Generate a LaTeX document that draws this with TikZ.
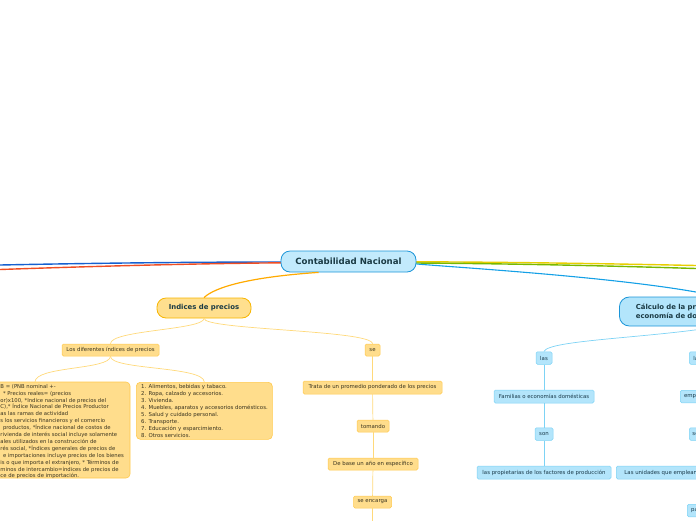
\documentclass[tikz,border=0pt]{standalone}
\usepackage{fontspec}
\setmainfont{DejaVu Sans}
\definecolor{cfill}{HTML}{C2EAFC}
\definecolor{cline}{HTML}{1B95D8}
\definecolor{yfill}{HTML}{FFDD8C}
\definecolor{yline}{HTML}{FFC94D}
\definecolor{ylink}{HTML}{FFD97A}
\definecolor{bfill}{HTML}{B3E5FB}
\definecolor{bline}{HTML}{7DD3F5}
\definecolor{hfill}{HTML}{FFDF8E}
\definecolor{hline}{HTML}{F7B500}
\definecolor{htext}{HTML}{1A3A44}
\definecolor{stext}{HTML}{3A3420}
\definecolor{btext}{HTML}{1A3A4A}
\definecolor{lblue}{HTML}{1560D0}
\definecolor{lred}{HTML}{F04E23}
\definecolor{lyel}{HTML}{E8CE00}
\definecolor{lgrn}{HTML}{78B800}
\definecolor{rblue}{HTML}{14A0E6}
\definecolor{lorg}{HTML}{FFAA00}
\tikzset{
  central/.style={draw=cline, fill=cfill, line width=0.8pt, rounded corners=9pt, minimum width=135pt, minimum height=21pt, inner sep=0pt, font=\fontsize{8.6}{9}\selectfont\bfseries, text=htext},
  ybig/.style={draw=hline, fill=hfill, line width=0.8pt, rounded corners=9pt, minimum height=20pt, inner sep=0pt, font=\fontsize{6.9}{7}\selectfont\bfseries, text=htext},
  bbig/.style={draw=cline, fill=bfill, line width=0.8pt, rounded corners=10pt, minimum height=29pt, inner sep=0pt, font=\fontsize{6.9}{9.5}\selectfont\bfseries, text=htext, align=left},
  ysmall/.style={draw=yline, fill=yfill, line width=0.5pt, rounded corners=1.5pt, minimum height=12pt, inner sep=0pt, font=\fontsize{5.4}{6}\selectfont, text=stext},
  bsmall/.style={draw=bline, fill=bfill, line width=0.5pt, rounded corners=1.5pt, minimum height=12.5pt, inner sep=0pt, font=\fontsize{5.4}{6}\selectfont, text=btext},
  ylink/.style={draw=ylink, line width=0.7pt},
  blink/.style={draw=bline, line width=0.7pt},
}
\begin{document}
\begin{tikzpicture}[x=1pt,y=-1pt]
\useasboundingbox (0,0) rectangle (696,520);
% main branch lines
\coordinate (lb) at (0,265);
\coordinate (lr) at (0,269.5);
\coordinate (ry) at (696,265.5);
\coordinate (rg) at (696,268.5);
\draw[lblue, line width=1.4pt] (283,262) .. controls (200,262) and (100,263) .. (lb);
\draw[lred, line width=1.4pt] (283,262.8) .. controls (200,263.5) and (100,266) .. (lr);
\draw[lyel, line width=1.4pt] (414,261.8) .. controls (500,262) and (600,263.5) .. (ry);
\draw[lgrn, line width=1.4pt] (414,263) .. controls (500,263.5) and (600,265.5) .. (rg);

% nodes
\node[central] (cn) at (348.5,261.5) {Contabilidad Nacional};
\node[ybig, minimum width=94pt] (ip) at (204,308) {Indices de precios};
\node[bbig, minimum width=200pt, anchor=west, text width=185pt] (cal) at (619,311.5) {\hspace*{9pt}Cálculo de la producción en una\\\hspace*{9pt}economía de dos sectores};

\draw[lorg, line width=1.2pt] (cn.200) .. controls (250,277) and (215,287) .. (ip.north);
\draw[rblue, line width=1.1pt] (cn.east |- 0,264) .. controls (480,269) and (640,279) .. (cal.north);

% yellow left part
\node[ysmall, minimum width=97pt] (ldip) at (110.5,350) {Los diferentes índices de precios};
\node[ysmall, minimum width=15pt] (se1) at (372.5,350) {se};
\draw[ylink] (ip.south) .. controls (204,330) and (110,330) .. (ldip.north);
\draw[ylink] (ip.south) .. controls (204,330) and (372.5,330) .. (se1.north);

% big box (cut at left)
\draw[draw=yline, fill=yfill, line width=0.6pt, rounded corners=4pt] (-60,382) rectangle (130,478);
\coordinate (bigtop) at (35,382);
\node[anchor=north west, inner sep=0pt, align=left, text=stext, font=\fontsize{5.3}{6.9}\selectfont] (bigtxt) at (0.3,384) {B = (PNB nominal +-\\
\hspace*{2.5pt}* Precios reales= (precios\\
or)x100, *Indice nacional de precios del\\
C),* Índice Nacional de Precios Productor\\
as las ramas de actividad\\
s los servicios financieros y el comercio\\
\hspace*{2.5pt}productos, *Índice nacional de costos de\\
rivienda de interés social incluye solamente\\
ales utilizados en la construcción de\\
rés social, *Índices generales de precios de\\
\hspace*{2.5pt}e importaciones incluye precios de los bienes\\
is o que importa el extranjero, * Términos de\\
minos de intercambio=índices de precios de\\
ce de precios de importación.};

\node[draw=yline, fill=yfill, line width=0.6pt, rounded corners=4pt, minimum width=136pt, minimum height=57pt, anchor=north west, inner sep=0pt] (box2) at (136,382) {};
\node[anchor=north west, inner sep=0pt, align=left, text=stext, font=\fontsize{5.4}{7}\selectfont] (box2txt) at (141,384.5) {1. Alimentos, bebidas y tabaco.\\
2. Ropa, calzado y accesorios.\\
3. Vivienda.\\
4. Muebles, aparatos y accesorios domésticos.\\
5. Salud y cuidado personal.\\
6. Transporte.\\
7. Educación y esparcimiento.\\
8. Otros servicios.};
\draw[ylink] (ldip.south) .. controls (110,370) and (35,366) .. (bigtop);
\draw[ylink] (ldip.south) .. controls (110,370) and (204,366) .. (box2.north);

% yellow chain
\node[ysmall, minimum width=139pt, minimum height=13pt] (tr) at (372.5,387.5) {Trata de un promedio ponderado de los precios};
\node[ysmall, minimum width=32pt] (tom) at (373,426) {tomando};
\node[ysmall, minimum width=90pt] (base) at (373,464) {De base un año en específico};
\node[ysmall, minimum width=38pt] (enc) at (372.5,502) {se encarga};
\coordinate (encend) at (372.5,521);
\draw[ylink] (se1) -- (tr);
\draw[ylink] (tr) -- (tom);
\draw[ylink] (tom) -- (base);
\draw[ylink] (base) -- (enc);
\draw[ylink] (enc) -- (encend);

% blue chain left
\node[bsmall, minimum width=16pt] (las1) at (544,358) {las};
\node[bsmall, minimum width=100pt, minimum height=13pt] (fam) at (544,396.5) {Familias o economías domésticas};
\node[bsmall, minimum width=18pt] (son1) at (544,434) {son};
\node[bsmall, minimum width=134pt, minimum height=13pt] (prop) at (544,472.5) {las propietarias de los factores de producción};
\draw[blink] (cal.south) .. controls (650,338) and (548,340) .. (las1.north);
\draw[blink] (las1) -- (fam);
\draw[blink] (fam) -- (son1);
\draw[blink] (son1) -- (prop);

% blue chain right (cut)
\node[bsmall, minimum width=16pt, anchor=west] (las2) at (689,358) {las};
\node[bsmall, minimum width=34pt, anchor=west] (emp) at (680,396.5) {empresas};
\node[bsmall, minimum width=16pt, anchor=west] (son2) at (689,434) {son};
\node[bsmall, minimum width=162pt, minimum height=13pt, anchor=west] (uni) at (616,472.5) {Las unidades que emplean los factores de producción};
\node[bsmall, minimum width=20pt, anchor=west] (para) at (687,510.5) {para};
\draw[blink] (cal.south) -- (las2);
\draw[blink] (las2) -- (emp);
\draw[blink] (emp) -- (son2);
\draw[blink] (son2) -- (uni);
\draw[blink] (uni) -- (para);
\end{tikzpicture}
\end{document}
